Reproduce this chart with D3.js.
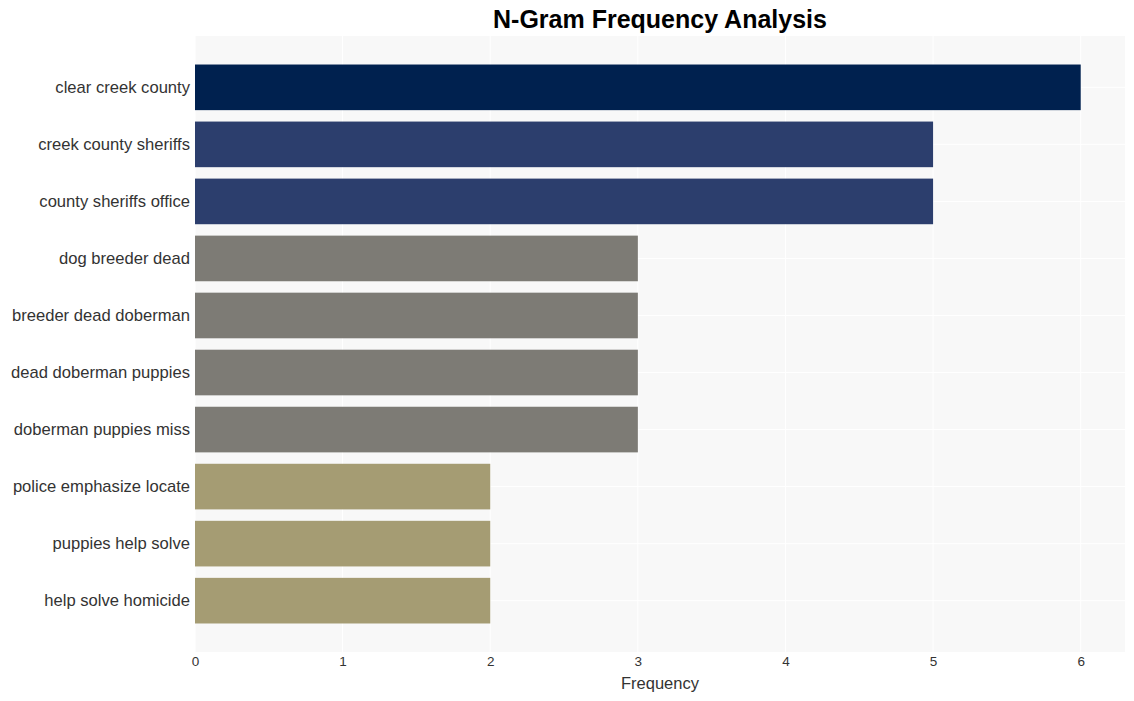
<!DOCTYPE html>
<html><head><meta charset="utf-8">
<script src="https://cdn.jsdelivr.net/npm/d3@7"></script>
<style>body{margin:0;background:#fff;font-family:"Liberation Sans",Arial,sans-serif;}</style>
</head><body><svg id="c" width="1134" height="701"></svg>
<script>
const categories = ["clear creek county","creek county sheriffs","county sheriffs office","dog breeder dead","breeder dead doberman","dead doberman puppies","doberman puppies miss","police emphasize locate","puppies help solve","help solve homicide"];
const values = [6,5,5,3,3,3,3,2,2,2];
const colors = ["#00214f","#2c3e6d","#2c3e6d","#7d7b75","#7d7b75","#7d7b75","#7d7b75","#a59c73","#a59c73","#a59c73"];
const xTicks = [0,1,2,3,4,5,6];

const svg = d3.select("#c");
const m = {l:195, r:1125, t:36, b:652};
const x = d3.scaleLinear().domain([0,6.3]).range([m.l,m.r]);
const y = d3.scaleBand().domain(categories).range([m.t,m.b]).paddingInner(0.2).paddingOuter(0.5);

svg.append("rect").attr("x",m.l).attr("y",m.t).attr("width",m.r-m.l).attr("height",m.b-m.t).attr("fill","#f8f8f8");
svg.append("g").selectAll("line").data(xTicks).join("line")
  .attr("x1",d=>x(d)).attr("x2",d=>x(d)).attr("y1",m.t).attr("y2",m.b)
  .attr("stroke","#fff").attr("stroke-width",1);
svg.append("g").selectAll("line").data(categories).join("line")
  .attr("x1",m.l).attr("x2",m.r).attr("y1",d=>y(d)+y.bandwidth()/2).attr("y2",d=>y(d)+y.bandwidth()/2)
  .attr("stroke","#fff").attr("stroke-width",1);

svg.append("g").selectAll("rect").data(categories).join("rect")
  .attr("x",x(0)).attr("y",d=>y(d)).attr("height",y.bandwidth())
  .attr("width",(d,i)=>x(values[i])-x(0)).attr("fill",(d,i)=>colors[i]);

const ya = svg.append("g").attr("transform",`translate(${m.l},0)`).call(d3.axisLeft(y).tickSize(0).tickPadding(5));
ya.select(".domain").remove();
ya.selectAll("text").attr("font-size","16.6px").attr("fill","#333").attr("font-family","Liberation Sans, Arial, sans-serif");

const xa = svg.append("g").attr("transform",`translate(0,${m.b})`).call(d3.axisBottom(x).tickValues(xTicks).tickFormat(d3.format("d")).tickSize(0).tickPadding(4));
xa.select(".domain").remove();
xa.selectAll("text").attr("font-size","13.5px").attr("fill","#333").attr("font-family","Liberation Sans, Arial, sans-serif");

svg.append("text").attr("x",(m.l+m.r)/2).attr("y",689).attr("text-anchor","middle")
  .attr("font-size","16.5px").attr("fill","#333").text("Frequency");
svg.append("text").attr("x",(m.l+m.r)/2).attr("y",28).attr("text-anchor","middle")
  .attr("font-size","25px").attr("font-weight","bold").attr("fill","#000").text("N-Gram Frequency Analysis");
</script></body></html>
